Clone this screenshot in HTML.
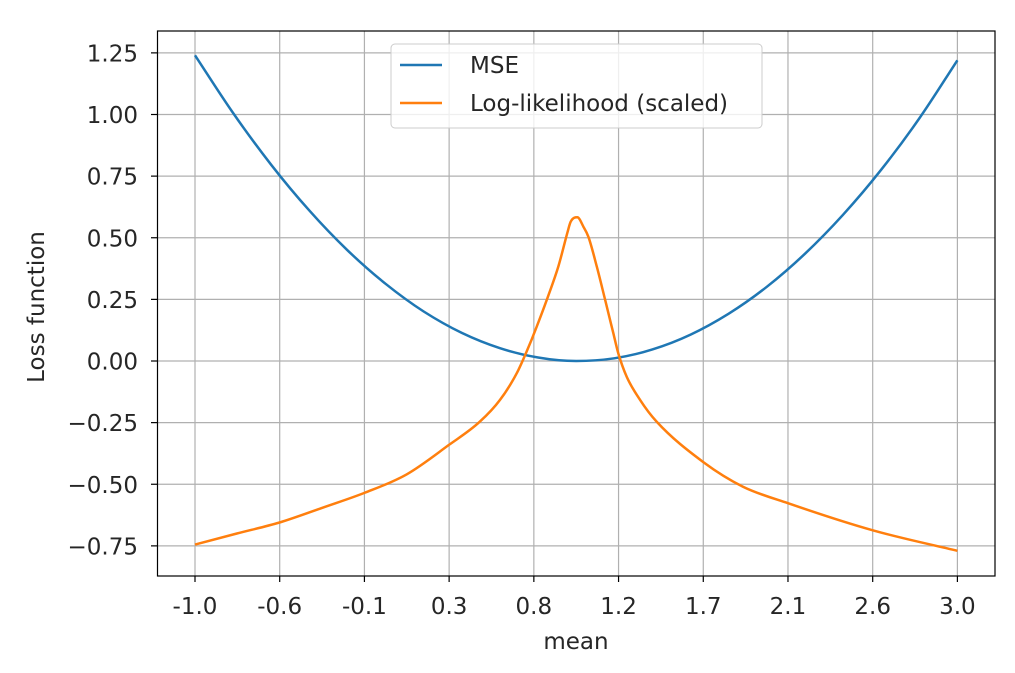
<!DOCTYPE html>
<html><head><meta charset="utf-8"><style>
body{margin:0;background:#fff}
svg text{font-family:"DejaVu Sans","Liberation Sans",sans-serif;fill:#262626}
</style></head><body>
<svg id="chart" width="1015" height="668" xmlns="http://www.w3.org/2000/svg">
<g id="grid"></g>
<g id="series"></g>
<rect x="157.5" y="31" width="837.5" height="545" fill="none" stroke="#000" stroke-width="1.2"/>
<g id="ticks"></g>
<text x="576" y="649" font-size="23" text-anchor="middle">mean</text>
<text transform="translate(44,307) rotate(-90)" font-size="23" text-anchor="middle">Loss function</text>
<g>
<rect x="391" y="44" width="371" height="84" rx="4" fill="#fff" fill-opacity="0.8" stroke="#ccc"/>
<line x1="400" y1="65" x2="442" y2="65" stroke="#1f77b4" stroke-width="2.5"/>
<text x="470" y="73" font-size="23">MSE</text>
<line x1="400" y1="103" x2="442" y2="103" stroke="#ff7f0e" stroke-width="2.5"/>
<text x="470" y="111" font-size="23">Log-likelihood (scaled)</text>
</g>
</svg>
<script>
const xTicks=[-1,-0.5556,-0.1111,0.3333,0.7778,1.2222,1.6667,2.1111,2.5556,3.0];
const xTickLabels=["-1.0","-0.6","-0.1","0.3","0.8","1.2","1.7","2.1","2.6","3.0"];
const yTicks=[1.25,1.0,0.75,0.5,0.25,0,-0.25,-0.5,-0.75];
const yTickLabels=["1.25","1.00","0.75","0.50","0.25","0.00","\u22120.25","\u22120.50","\u22120.75"];
const mseX=[-1,-0.8,-0.6,-0.4,-0.2,0,0.2,0.4,0.6,0.8,1.0,1.2,1.4,1.6,1.8,2.0,2.2,2.4,2.6,2.8,3.0];
const mseY=[1.24,1.006,0.796,0.61,0.449,0.313,0.201,0.114,0.052,0.014,0,0.011,0.047,0.107,0.192,0.301,0.435,0.593,0.776,0.984,1.22];
const llX=[-1,-0.78,-0.556,-0.33,-0.111,0.11,0.333,0.495,0.6,0.688,0.74,0.793,0.845,0.906,0.953,0.971,1.006,1.038,1.064,1.108,1.152,1.195,1.221,1.265,1.335,1.422,1.667,1.875,2.111,2.556,3.0];
const llY=[-0.745,-0.70,-0.655,-0.595,-0.535,-0.46,-0.34,-0.246,-0.158,-0.05,0.038,0.139,0.247,0.383,0.518,0.565,0.583,0.545,0.504,0.383,0.247,0.112,0.031,-0.064,-0.158,-0.246,-0.41,-0.51,-0.577,-0.687,-0.77];
const NS="http://www.w3.org/2000/svg";
const sx=v=>195+(v+1)*190.6;
const sy=v=>361-v*246.5;
function mk(t,a,p){const e=document.createElementNS(NS,t);for(const k in a)e.setAttribute(k,a[k]);p.appendChild(e);return e;}
const grid=document.getElementById('grid'),ticks=document.getElementById('ticks'),series=document.getElementById('series');
xTicks.forEach((v,i)=>{
 const g=mk('line',{x1:sx(v),x2:sx(v),y1:31,y2:576,stroke:'#b0b0b0','stroke-width':1.2},grid);
 
 
 const t=mk('line',{x1:sx(v),x2:sx(v),y1:576,y2:582,stroke:'#000','stroke-width':1.2},ticks);
 
 
 const l=mk('text',{x:sx(v),y:614,'font-size':23,'text-anchor':'middle'},ticks);
 l.textContent=xTickLabels[i];
 
 
});
yTicks.forEach((v,i)=>{
 const g=mk('line',{x1:157.5,x2:995,y1:sy(v),y2:sy(v),stroke:'#b0b0b0','stroke-width':1.2},grid);
 
 
 const t=mk('line',{x1:151,x2:157.5,y1:sy(v),y2:sy(v),stroke:'#000','stroke-width':1.2},ticks);
 
 
 const l=mk('text',{x:138,y:sy(v)+8.5,'font-size':23,'text-anchor':'end'},ticks);
 l.textContent=yTickLabels[i];
 
 
});
function path(xs,ys,c,name){
 const P=xs.map((x,i)=>[sx(x),sy(ys[i])]);
 const n=P.length,dk=[],m=[];
 for(let i=0;i<n-1;i++)dk.push((P[i+1][1]-P[i][1])/(P[i+1][0]-P[i][0]));
 m[0]=dk[0];m[n-1]=dk[n-2];
 for(let i=1;i<n-1;i++)m[i]=(dk[i-1]*dk[i]<=0)?0:(dk[i-1]+dk[i])/2;
 for(let i=0;i<n-1;i++){
  if(dk[i]===0){m[i]=m[i+1]=0;continue;}
  const a=m[i]/dk[i],b=m[i+1]/dk[i],s=a*a+b*b;
  if(s>9){const t=3/Math.sqrt(s);m[i]=t*a*dk[i];m[i+1]=t*b*dk[i];}
 }
 let d='M'+P[0][0].toFixed(1)+','+P[0][1].toFixed(1);
 for(let i=0;i<n-1;i++){
  const h=(P[i+1][0]-P[i][0])/3;
  d+='C'+(P[i][0]+h).toFixed(1)+','+(P[i][1]+m[i]*h).toFixed(1)+' '+(P[i+1][0]-h).toFixed(1)+','+(P[i+1][1]-m[i+1]*h).toFixed(1)+' '+P[i+1][0].toFixed(1)+','+P[i+1][1].toFixed(1);
 }
 const p=mk('path',{d:d,fill:'none',stroke:c,'stroke-width':2.5,'stroke-linejoin':'round'},series);
 
 
}
path(mseX,mseY,'#1f77b4','mse-line');
path(llX,llY,'#ff7f0e','log-likelihood-line');
</script>
</body></html>
